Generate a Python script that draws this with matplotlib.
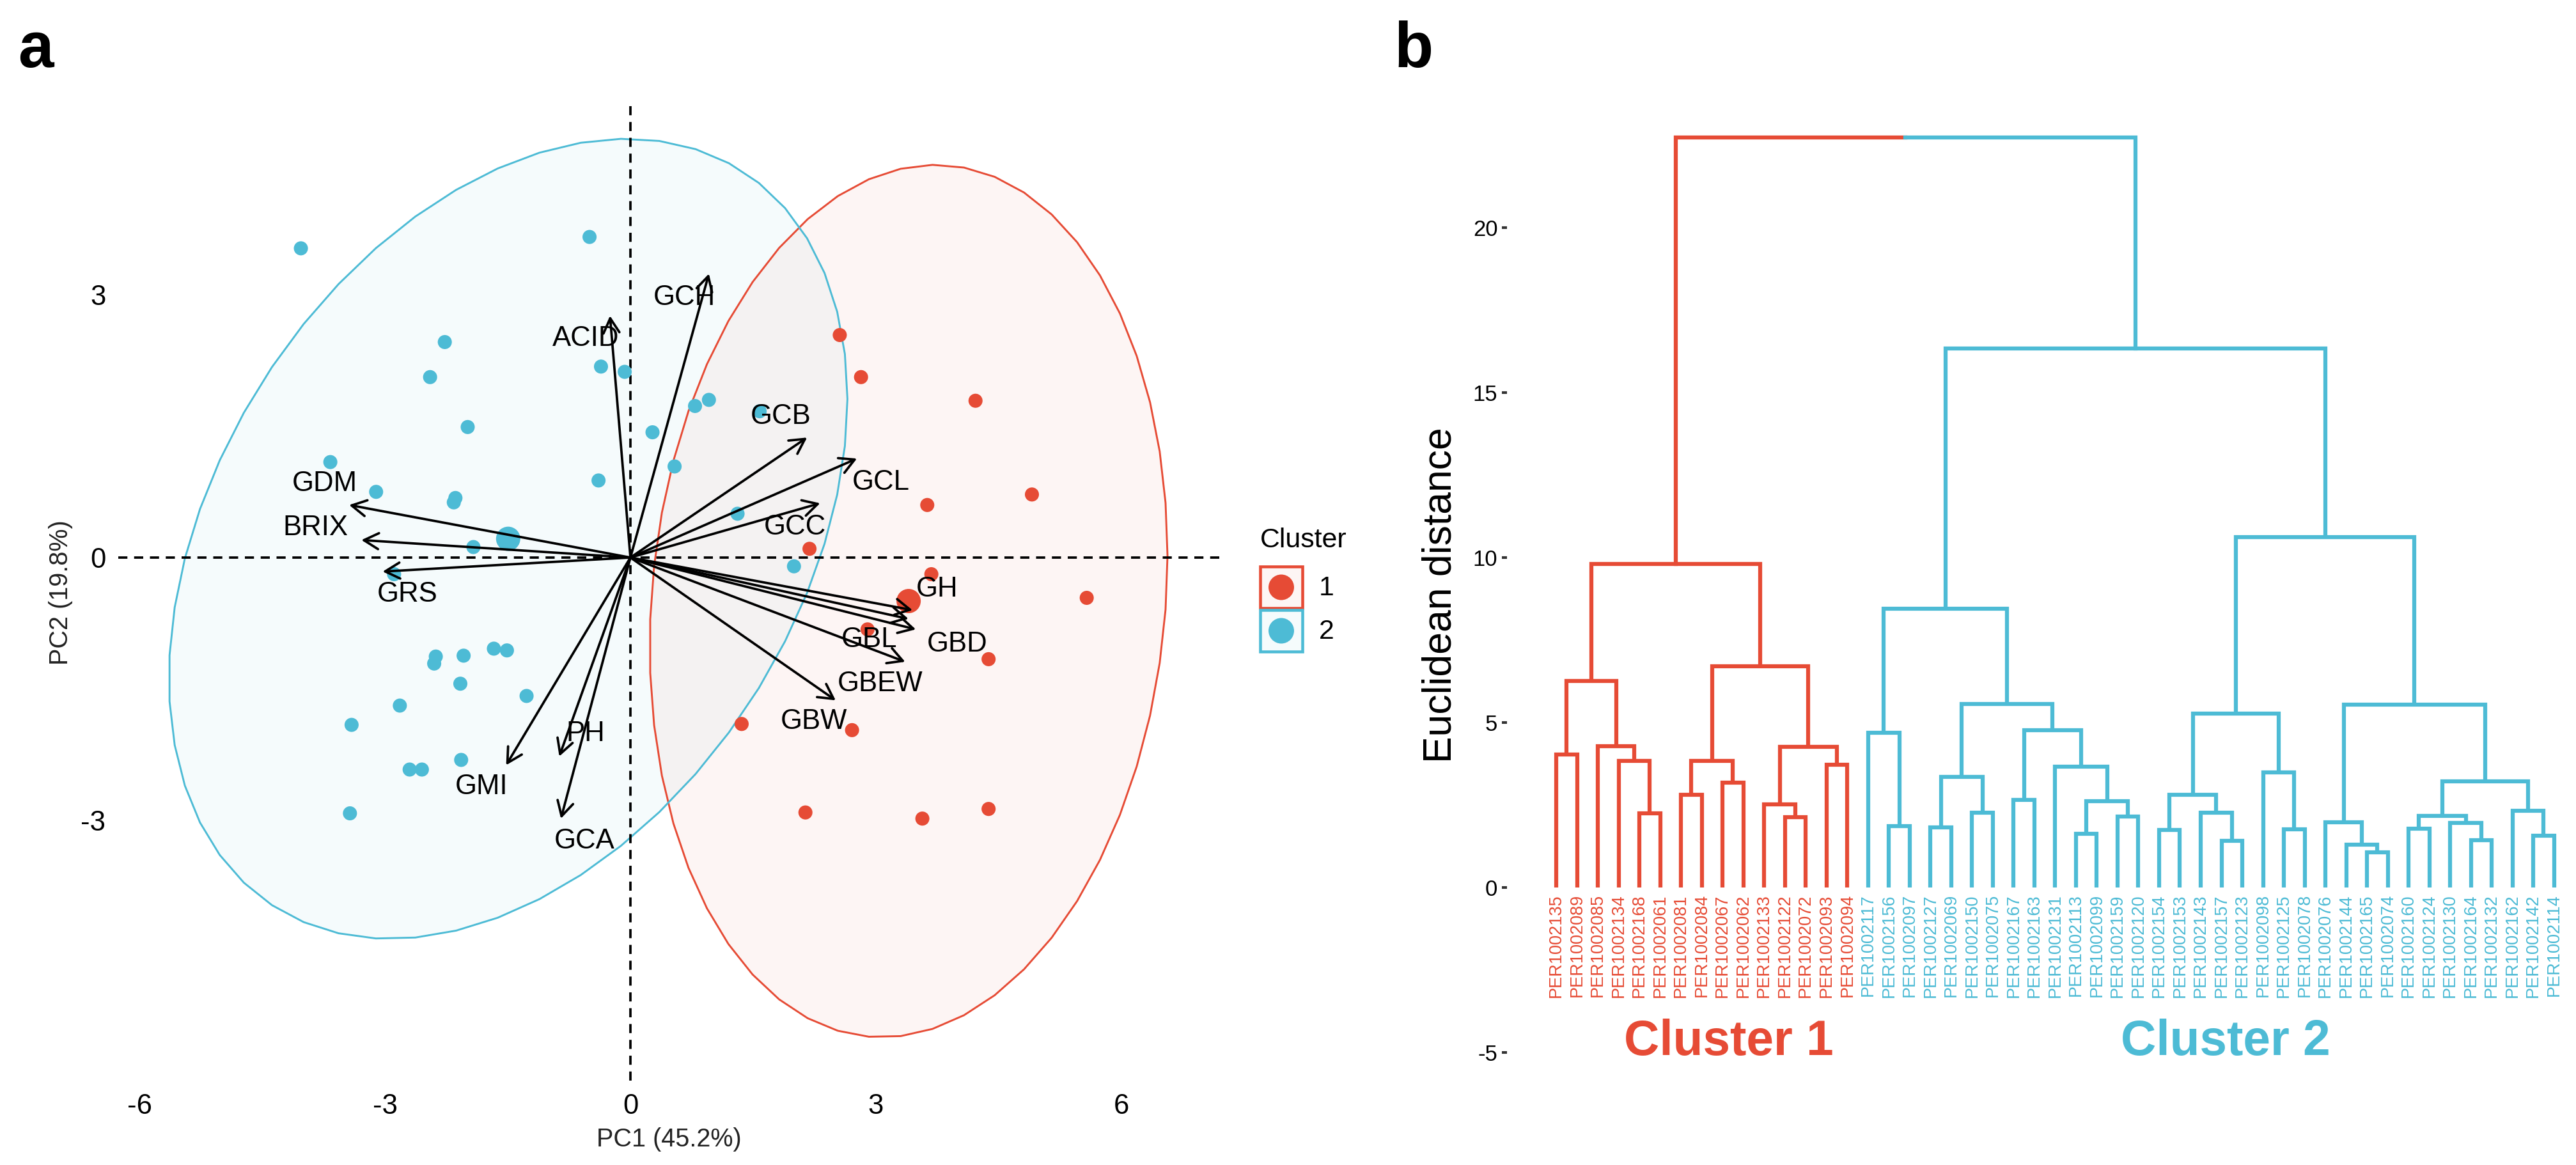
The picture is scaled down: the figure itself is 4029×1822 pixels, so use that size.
import numpy as np
import matplotlib
matplotlib.use("Agg")
from matplotlib import pyplot as plt
from matplotlib.patches import Polygon, Rectangle

plt.rcParams['font.family'] = ['Liberation Sans', 'DejaVu Sans']

RED = "#E64B35"
BLUE = "#4DBBD5"

# ---------------- PCA scores ----------------
c1_pc1 = [2.56, 2.82, 4.22, 4.91, 3.63, 2.19, 3.68, 5.58, 2.90, 4.38, 1.36, 2.71, 2.14, 3.57, 4.38]
c1_pc2 = [2.54, 2.06, 1.79, 0.72, 0.60, 0.10, -0.19, -0.46, -0.82, -1.16, -1.90, -1.97, -2.91, -2.98, -2.87]

c2_pc1 = [-4.03, -0.50, -2.27, -2.45, -0.36, -0.07, -1.99, -3.67, -3.11, -2.14, -2.16, -0.39, -1.92, -2.89,
          0.79, 0.96, 0.27, 0.54, 1.58, 1.31, 2.00,
          -2.38, -2.40, -2.04, -1.67, -1.51, -2.08, -1.27, -2.82, -3.41, -2.07, -2.70, -2.55, -3.43]
c2_pc2 = [3.53, 3.66, 2.46, 2.06, 2.18, 2.12, 1.49, 1.09, 0.75, 0.68, 0.63, 0.88, 0.12, -0.19,
          1.73, 1.80, 1.43, 1.04, 1.67, 0.50, -0.10,
          -1.13, -1.21, -1.12, -1.04, -1.06, -1.44, -1.58, -1.69, -1.91, -2.31, -2.42, -2.42, -2.92]

# variable loadings (arrow tips)
var_names = ["ACID", "GCH", "GCB", "GCL", "GCC", "GDM", "BRIX", "GRS",
             "GMI", "PH", "GCA", "GH", "GBL", "GBD", "GBEW", "GBW"]
var_pc1 = [-0.25, 0.96, 2.16, 2.77, 2.32, -3.44, -3.29, -3.03,
           -1.52, -0.87, -0.85, 3.45, 3.40, 3.49, 3.36, 2.51]
var_pc2 = [2.76, 3.24, 1.37, 1.13, 0.62, 0.60, 0.20, -0.16,
           -2.37, -2.27, -2.98, -0.60, -0.70, -0.82, -1.19, -1.63]
# where the variable names sit
lab_x = [-0.55, 0.66, 1.84, 3.06, 2.01, -3.74, -3.85, -2.73,
         -1.82, -0.55, -0.56, 3.75, 2.92, 4.00, 3.05, 2.24]
lab_y = [2.50, 2.97, 1.61, 0.86, 0.35, 0.84, 0.34, -0.42,
         -2.62, -2.01, -3.24, -0.36, -0.94, -0.99, -1.44, -1.87]

# ---------------- dendrogram ----------------
leaf_ids = ["2135", "2089", "2085", "2134", "2168", "2061", "2081", "2084", "2067", "2062",
            "2133", "2122", "2072", "2093", "2094",
            "2117", "2156", "2097", "2127", "2069", "2150", "2075", "2167", "2163", "2131",
            "2113", "2099", "2159", "2120", "2154", "2153", "2143", "2157", "2123", "2098",
            "2125", "2078", "2076", "2144", "2165", "2074", "2160", "2124", "2130", "2164",
            "2132", "2162", "2142", "2114"]
leaf_labels = ["PER100" + s for s in leaf_ids]
leaf_cluster = [1] * 15 + [2] * 34

# merges: (left id, right id, height); ids < n are leaves, n + k is merge k
merges = [
    (0, 1, 4.02), (4, 5, 2.25), (3, 50, 3.83), (2, 51, 4.28), (49, 52, 6.25),
    (6, 7, 2.81), (8, 9, 3.18), (54, 55, 3.84), (11, 12, 2.12), (10, 57, 2.51),
    (13, 14, 3.71), (58, 59, 4.26), (56, 60, 6.70), (53, 61, 9.79),
    (16, 17, 1.85), (15, 63, 4.69), (18, 19, 1.82), (20, 21, 2.27), (65, 66, 3.34),
    (22, 23, 2.65), (25, 26, 1.62), (27, 28, 2.15), (69, 70, 2.62), (24, 71, 3.65),
    (68, 72, 4.76), (67, 73, 5.55), (64, 74, 8.44),
    (29, 30, 1.74), (32, 33, 1.41), (31, 77, 2.27), (76, 78, 2.81), (35, 36, 1.75),
    (34, 80, 3.49), (79, 81, 5.27),
    (39, 40, 1.06), (38, 83, 1.30), (37, 84, 1.98), (41, 42, 1.77), (44, 45, 1.43),
    (43, 87, 1.95), (86, 88, 2.17), (47, 48, 1.56), (46, 90, 2.32), (89, 91, 3.22),
    (85, 92, 5.53), (82, 93, 10.61), (75, 94, 16.32), (62, 95, 22.72),
]


def norm_ellipse(x, y, level=0.95, segments=51):
    # same construction as ggplot2 stat_ellipse(type = "norm")
    x = np.asarray(x)
    y = np.asarray(y)
    dfd = len(x) - 1
    fq = dfd / 2 * ((1 - level) ** (-2 / dfd) - 1)  # qf(level, 2, dfd)
    radius = np.sqrt(2 * fq)
    t = np.linspace(0, 2 * np.pi, segments + 1)
    circle = np.column_stack([np.cos(t), np.sin(t)])
    L = np.linalg.cholesky(np.cov(x, y))
    return np.array([x.mean(), y.mean()]) + radius * circle @ L.T


W, H = 4029, 1822
fig = plt.figure(figsize=(W / 300, H / 300), dpi=300)

# ================= panel a =================
ax = fig.add_axes([185 / W, 1 - 1690 / H, (1907 - 185) / W, (1690 - 163) / H])
ax.set_xlim(-6.263, 7.201)
ax.set_ylim(-5.971, 5.175)

for xs, ys, col in [(c1_pc1, c1_pc2, RED), (c2_pc1, c2_pc2, BLUE)]:
    ell = norm_ellipse(xs, ys)
    ax.add_patch(Polygon(ell, closed=True, facecolor=col, alpha=0.05, edgecolor="none", zorder=1))
    ax.add_patch(Polygon(ell, closed=True, facecolor="none", edgecolor=col, lw=0.7, zorder=1.5))

ax.axhline(0, color="black", lw=0.9, dashes=(3.8, 2.8), zorder=2)
ax.axvline(0, color="black", lw=0.9, dashes=(3.8, 2.8), zorder=2)

for xs, ys, col in [(c1_pc1, c1_pc2, RED), (c2_pc1, c2_pc2, BLUE)]:
    ax.scatter(xs, ys, s=28, color=col, edgecolors="none", zorder=3)
    ax.scatter([np.mean(xs)], [np.mean(ys)], s=83, color=col, edgecolors="none", zorder=3)

for name, vx, vy, tx, ty in zip(var_names, var_pc1, var_pc2, lab_x, lab_y):
    ax.annotate("", xy=(vx, vy), xytext=(0, 0),
                arrowprops=dict(arrowstyle="->,head_length=0.55,head_width=0.3",
                                color="black", lw=0.9, shrinkA=0, shrinkB=0,
                                mutation_scale=10), zorder=4)
    ax.text(tx, ty, name, fontsize=10.5, ha="center", va="center", zorder=5)

ax.set_xticks([-6, -3, 0, 3, 6])
ax.set_xticklabels(["-6", "-3", "0", "3", "6"])
ax.set_yticks([-3, 0, 3])
ax.set_yticklabels(["-3", "0", "3"])
ax.tick_params(length=0, pad=4.7, labelsize=10.5, labelcolor="black")
for sp in ax.spines.values():
    sp.set_visible(False)
ax.set_xlabel("PC1 (45.2%)", fontsize=9.5, color="#222222", labelpad=3)
ax.set_ylabel("PC2 (19.8%)", fontsize=9.5, color="#222222", labelpad=3)

# legend
lg = fig.add_axes([1950 / W, 1 - 1040 / H, 220 / W, 240 / H])
lg.set_xlim(1950, 2170)
lg.set_ylim(1040, 800)
lg.axis("off")
lg.text(1971, 856, "Cluster", fontsize=10.3, ha="left", va="baseline")
for i, (col, lab) in enumerate([(RED, "1"), (BLUE, "2")]):
    top = 886 + i * 68
    lg.add_patch(Rectangle((1971, top), 66, 65, facecolor=col, alpha=0.05, edgecolor="none"))
    lg.add_patch(Rectangle((1971, top), 66, 65, facecolor="none", edgecolor=col, lw=1.1))
    lg.scatter([2004], [top + 32.5], s=92, color=col, edgecolors="none")
    lg.text(2063, top + 34, lab, fontsize=10.3, ha="left", va="center")

# ================= panel b =================
bx = fig.add_axes([2357 / W, 1 - 1718 / H, (4024 - 2357) / W, 1574 / H])
bx.set_xlim(-2.37, 48.9)
bx.set_ylim(-6.4, 24.1)

n = len(leaf_labels)
node_x = list(range(n))
node_h = [0.0] * n
node_cl = list(leaf_cluster)
for a, b, h in merges:
    xa, xb = node_x[a], node_x[b]
    ha_, hb_ = node_h[a], node_h[b]
    if node_cl[a] == node_cl[b]:
        col = RED if node_cl[a] == 1 else BLUE
        bx.plot([xa, xa, xb, xb], [ha_, h, h, hb_], color=col, lw=1.5,
                solid_joinstyle="miter", solid_capstyle="butt")
        cl = node_cl[a]
    else:
        mid = (xa + xb) / 2
        ca = RED if node_cl[a] == 1 else BLUE
        cb = RED if node_cl[b] == 1 else BLUE
        bx.plot([xa, xa, mid], [ha_, h, h], color=ca, lw=1.5, solid_joinstyle="miter")
        bx.plot([mid, xb, xb], [h, h, hb_], color=cb, lw=1.5, solid_joinstyle="miter")
        cl = 0
    node_x.append((xa + xb) / 2)
    node_h.append(h)
    node_cl.append(cl)

for i, (lab, cl) in enumerate(zip(leaf_labels, leaf_cluster)):
    bx.annotate(lab, xy=(i, 0), xytext=(0, -2.5), textcoords="offset points",
                rotation=90, ha="center", va="top", fontsize=6.5,
                color=RED if cl == 1 else BLUE)

bx.text(8.3, -5.08, "Cluster 1", fontsize=18.4, fontweight="bold", color=RED,
        ha="center", va="baseline")
bx.text(32.2, -5.08, "Cluster 2", fontsize=18.4, fontweight="bold", color=BLUE,
        ha="center", va="baseline")

bx.set_xticks([])
bx.set_yticks([-5, 0, 5, 10, 15, 20])
bx.set_yticklabels(["-5", "0", "5", "10", "15", "20"])
bx.tick_params(axis="y", length=2, width=1, pad=1.5, labelsize=8.3, color="#333333")
for sp in bx.spines.values():
    sp.set_visible(False)
bx.set_ylabel("Euclidean distance", fontsize=15, labelpad=5)

fig.text(28 / W, 1 - 105 / H, "a", fontsize=24, fontweight="bold", va="baseline")
fig.text(2180 / W, 1 - 105 / H, "b", fontsize=24, fontweight="bold", va="baseline")

fig.savefig("out.png", dpi=300)
